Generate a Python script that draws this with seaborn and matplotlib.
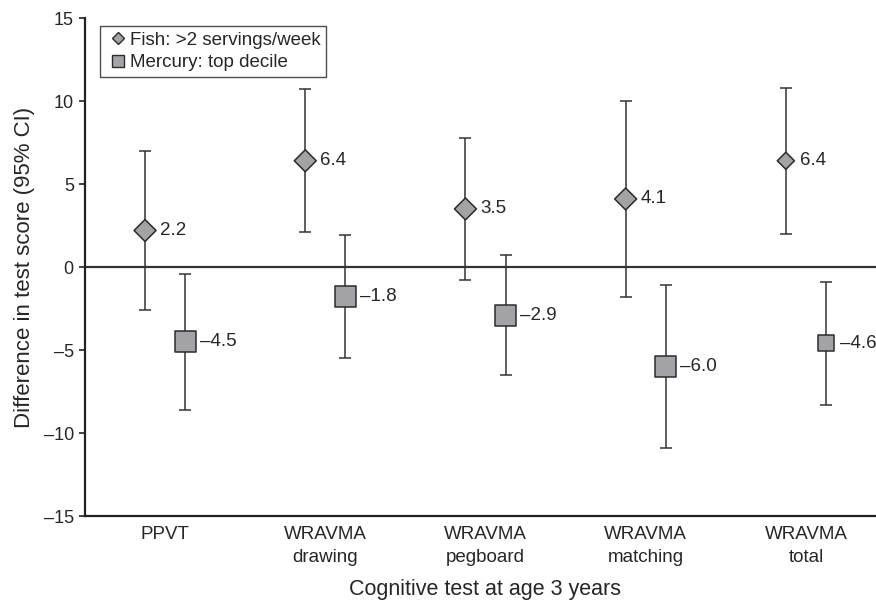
import numpy as np
import pandas as pd
import seaborn as sns
import matplotlib.pyplot as plt
from matplotlib.lines import Line2D

tests = ["PPVT", "WRAVMA\ndrawing", "WRAVMA\npegboard", "WRAVMA\nmatching", "WRAVMA\ntotal"]

fish_est = [2.2, 6.4, 3.5, 4.1, 6.4]
fish_lo = [-2.6, 2.1, -0.8, -1.8, 2.0]
fish_hi = [7.0, 10.7, 7.8, 10.0, 10.8]

merc_est = [-4.5, -1.8, -2.9, -6.0, -4.6]
merc_lo = [-8.6, -5.5, -6.5, -10.9, -8.3]
merc_hi = [-0.4, 1.9, 0.7, -1.1, -0.9]

yticks = [-15, -10, -5, 0, 5, 10, 15]

sns.set_style("ticks")
plt.rcParams["font.family"] = ["Liberation Sans", "DejaVu Sans"]

pos = np.arange(len(tests))
fish = pd.DataFrame({"x": pos - 0.125, "est": fish_est, "lo": fish_lo, "hi": fish_hi})
merc = pd.DataFrame({"x": pos + 0.125, "est": merc_est, "lo": merc_lo, "hi": merc_hi})

fig = plt.figure(figsize=(8.76, 6.01), dpi=100)
ax = fig.add_axes([0.097, 0.1414, 0.9144, 0.8286])

grey = "#a3a3a7"
edge = "#2b2b2b"

ax.axhline(0, color="#333333", lw=1.6, zorder=1)

for df in (fish, merc):
    ax.errorbar(df["x"], df["est"], yerr=[df["est"] - df["lo"], df["hi"] - df["est"]],
                fmt="none", ecolor="#333333", elinewidth=1.1, capsize=4, capthick=1.1, zorder=2)

# marker area roughly follows study weight: the total score points are smaller
sns.scatterplot(data=fish, x="x", y="est", ax=ax, marker="D", s=[125, 125, 125, 125, 76],
                color=grey, edgecolor=edge, linewidth=1.1, zorder=3, legend=False)
sns.scatterplot(data=merc, x="x", y="est", ax=ax, marker="s", s=[225, 225, 225, 225, 130],
                color=grey, edgecolor=edge, linewidth=1.1, zorder=3, legend=False)

for df in (fish, merc):
    for x, v in zip(df["x"], df["est"]):
        ax.annotate(f"{v:.1f}".replace("-", "\u2013"), (x, v), xytext=(10.5, 0),
                    textcoords="offset points", va="center", ha="left", fontsize=13.5)

ax.set_xlim(-0.5, len(tests) - 0.5)
ax.set_ylim(-15, 15)
ax.set_xticks(pos)
ax.set_xticklabels(tests, fontsize=13.5, linespacing=1.5)
ax.set_yticks(yticks)
ax.set_yticklabels([str(t).replace("-", "\u2013") for t in yticks], fontsize=13)
ax.tick_params(axis="x", length=0, pad=7)
ax.tick_params(axis="y", length=4, width=1.2, color="#222222", pad=4)

for s in ("top", "right"):
    ax.spines[s].set_visible(False)
for s in ("left", "bottom"):
    ax.spines[s].set_linewidth(1.6)
    ax.spines[s].set_color("#222222")

ax.set_xlabel("Cognitive test at age 3 years", fontsize=15.5, labelpad=9)
ax.set_ylabel("Difference in test score (95% CI)", fontsize=16, labelpad=6)

handles = [
    Line2D([], [], ls="none", marker="D", ms=6, mfc=grey, mec=edge, mew=1),
    Line2D([], [], ls="none", marker="s", ms=8, mfc=grey, mec=edge, mew=1),
]
leg = ax.legend(handles, ["Fish: >2 servings/week", "Mercury: top decile"], loc="upper left",
                bbox_to_anchor=(0.0187, 0.984), fontsize=13.5, frameon=True, fancybox=False,
                edgecolor="#222222", handlelength=1.3, handletextpad=0.0, borderpad=0.3,
                labelspacing=0.3, borderaxespad=0)
leg.get_frame().set_linewidth(1.0)

fig.savefig("out.png", dpi=100)
